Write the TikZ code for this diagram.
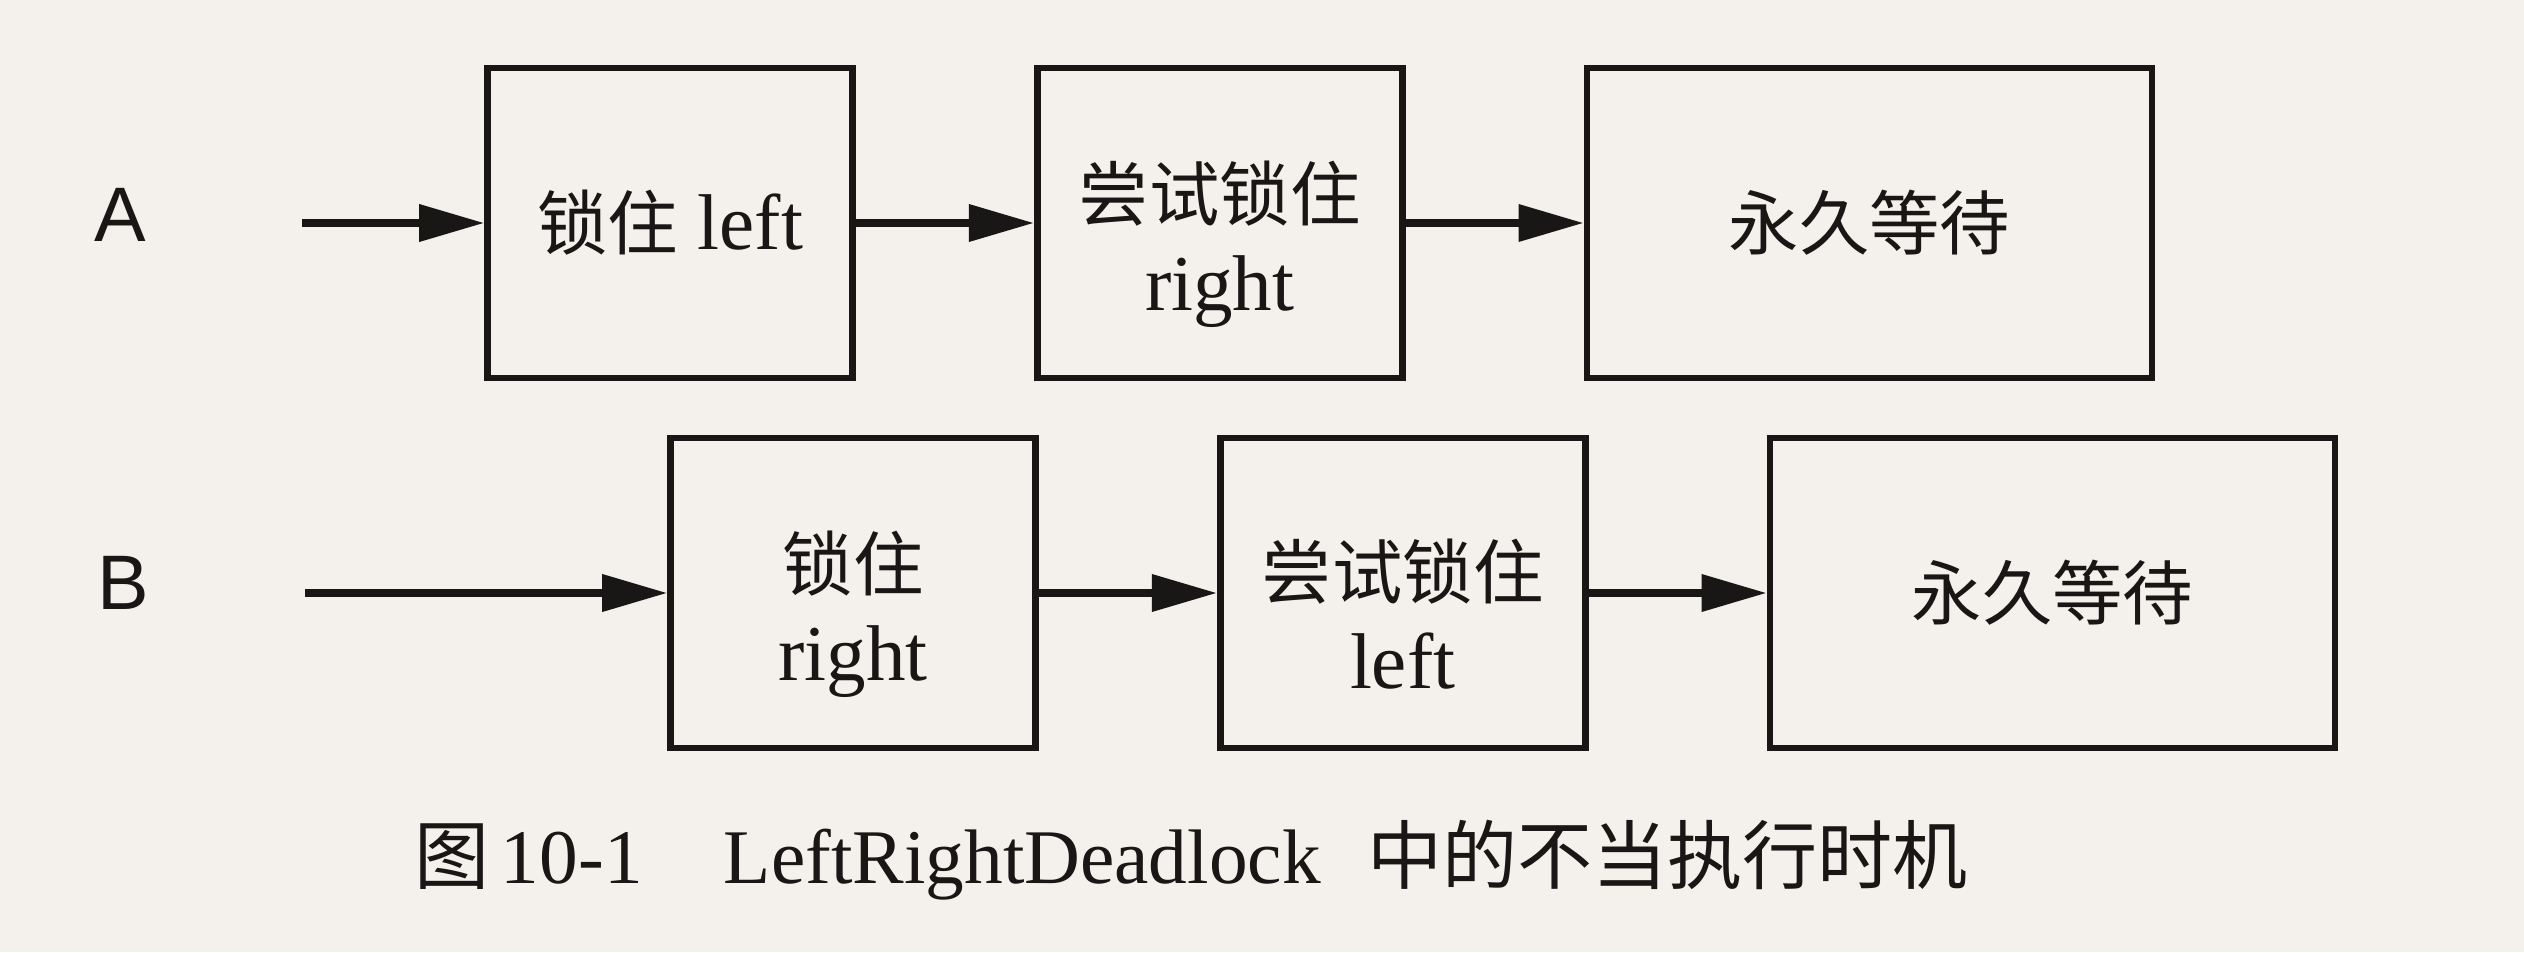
\documentclass[tikz,border=0pt]{standalone}
\usepackage{fontspec}
\setmainfont{Liberation Serif}
\setsansfont{Liberation Sans}
\newfontfamily\cjk[Scale=0.89]{Noto Sans CJK SC}
\usetikzlibrary{arrows.meta, positioning}
\definecolor{paper}{RGB}{244,240,236}
\definecolor{ink}{RGB}{25,22,22}
\newcommand{\zh}[1]{{\cjk #1}}
\newcommand{\zhcap}[1]{{\fontsize{24}{26}\selectfont\cjk #1}}
\newcommand{\topgap}{\rule{0pt}{29pt}}

\begin{document}
\begin{tikzpicture}[
  node distance=17.8mm,
  font=\fontsize{22.5}{25.5}\selectfont,
  box/.style={draw=ink, text=ink, line width=1.9pt, align=center,
              minimum width=36.5mm, minimum height=31mm, inner sep=0pt},
  waitbox/.style={box, minimum width=56.5mm},
  thread/.style={font=\sffamily\fontsize{22}{26}\selectfont, text=ink},
  arr/.style={-{Triangle[length=6.5mm, width=3.6mm]}, line width=2pt, draw=ink}
]
\fill[paper, use as bounding box] (0,0) rectangle (252.4mm,95.2mm);

% thread A
\node[box] (a1) at (67mm,72.9mm) {\zh{锁住} left};
\node[box, right=of a1] (a2) {\topgap\zh{尝试锁住} \\ right};
\node[waitbox, right=of a2] (a3) {\zh{永久等待}};
\coordinate[left=18.2mm of a1] (a0);
\node[thread] (la) at (12mm,73.7mm) {A};

% thread B
\node[box] (b1) at (85.3mm,35.9mm) {\topgap\zh{锁住} \\ right};
\node[box, right=of b1] (b2) {\topgap\zh{尝试锁住} \\ left};
\node[waitbox, right=of b2] (b3) {\zh{永久等待}};
\coordinate[left=36.2mm of b1] (b0);
\node[thread] (lb) at (12.3mm,36.9mm) {B};

\draw[arr] (a0) -- (a1);
\draw[arr] (a1) -- (a2);
\draw[arr] (a2) -- (a3);
\draw[arr] (b0) -- (b1);
\draw[arr] (b1) -- (b2);
\draw[arr] (b2) -- (b3);

\node[font=\fontsize{22}{24}\selectfont, text=ink] (cap) at (119.1mm,9.2mm)
  {\zhcap{图}\hspace{0.15em}10-1\hspace{1.05em}LeftRightDeadlock\hspace{0.6em}\zhcap{中的不当执行时机}};
\end{tikzpicture}
\end{document}
